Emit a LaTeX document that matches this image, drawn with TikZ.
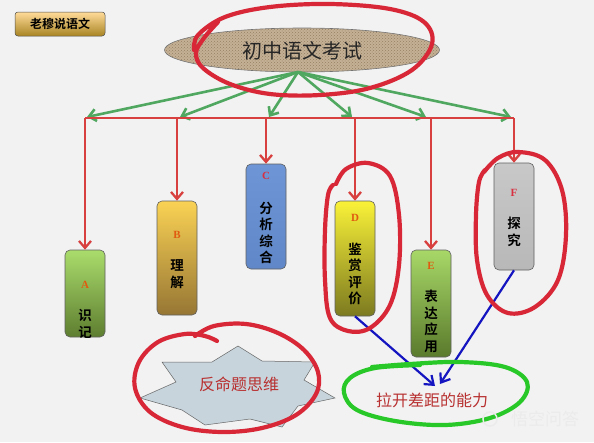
\documentclass[tikz,border=0pt]{standalone}
\usepackage{fontspec}
\newfontfamily\cjk{Noto Sans CJK SC}
\newfontfamily\cjkb{Noto Sans CJK SC Bold}
\setmainfont{Liberation Serif}
\usetikzlibrary{arrows.meta,shapes.geometric,patterns}
\definecolor{bg}{HTML}{F2F2F2}
\definecolor{redc}{HTML}{D84040}
\definecolor{greenc}{HTML}{50A860}
\definecolor{bluec}{HTML}{1414C0}
\definecolor{penred}{HTML}{D82838}
\definecolor{pengreen}{HTML}{28C828}
\definecolor{boxline}{HTML}{606060}
\definecolor{lettc}{HTML}{E05A10}
\definecolor{lettr}{HTML}{D83040}
\definecolor{txtred}{HTML}{B83030}
\begin{document}
\begin{tikzpicture}[x=1pt,y=-1pt,
  box/.style={draw=boxline, rounded corners=5pt, minimum width=40pt, line width=0.6pt, inner sep=0pt},
  redln/.style={draw=redc, line width=2.3pt},
  redar/.style={redln, -{Straight Barb[length=7pt,width=12pt]}},
  greenar/.style={draw=greenc, line width=2.6pt, -{Straight Barb[length=7pt,width=12pt]}},
  bluear/.style={draw=bluec, line width=2.2pt, -{Straight Barb[length=8pt,width=12pt]}},
  pen/.style={line width=4.2pt, line cap=round, line join=round},
  letter/.style={font=\fontsize{11}{11}\selectfont\bfseries, inner sep=0pt},
  vtext/.style={font=\cjkb\fontsize{13.5}{16.5}\selectfont, align=center, inner sep=0pt},
]
\fill[bg] (0,0) rectangle (594,442);
\useasboundingbox (0,0) rectangle (594,442);

% top-left button
\node[draw=boxline!80!black, rounded corners=3pt, top color=yellow!30!orange!40!white, bottom color=brown!70!yellow!80!black,
      minimum width=90pt, minimum height=24pt, line width=0.5pt, font=\cjkb\fontsize{12}{12}\selectfont] (btn) at (60,24) {老穆说语文};

% main ellipse
\node[ellipse, draw=black!55, line width=0.6pt, fill={rgb,255:red,196;green,176;blue,148}, minimum width=275pt, minimum height=44pt, inner sep=0pt] (top) at (302,50) {};
\fill[pattern=crosshatch dots, pattern color={rgb,255:red,150;green,128;blue,100}] (302,50) ellipse [x radius=136.5, y radius=21.5];
\node[font=\cjk\fontsize{20}{20}\selectfont, text=black!85] (title) at (302,51) {初中语文考试};

% boxes
\node[box, top color={rgb,255:red,170;green,220;blue,108}, bottom color={rgb,255:red,94;green,126;blue,48}, minimum height=87pt] (A) at (85,293.5) {};
\node[box, top color={rgb,255:red,250;green,210;blue,84}, bottom color={rgb,255:red,150;green,118;blue,52}, minimum height=114pt] (B) at (177,258) {};
\node[box, top color={rgb,255:red,110;green,150;blue,214}, bottom color={rgb,255:red,96;green,136;blue,200}, minimum height=105pt] (C) at (266,216.5) {};
\node[box, top color={rgb,255:red,250;green,242;blue,56}, bottom color={rgb,255:red,124;green,122;blue,32}, minimum height=115pt] (D) at (355,258.5) {};
\node[box, top color={rgb,255:red,168;green,216;blue,104}, bottom color={rgb,255:red,90;green,122;blue,44}, minimum height=107pt] (E) at (431,303.5) {};
\node[box, top color={rgb,255:red,200;green,200;blue,200}, bottom color={rgb,255:red,184;green,184;blue,184}, minimum height=107pt] (F) at (514,216.5) {};

% box texts
\node[letter, text=lettc] (Al) at (85,285) {A};
\node[vtext] (At) at (85,324) {识\\记};
\node[letter, text=lettc] (Bl) at (177,235) {B};
\node[vtext] (Bt) at (177,274) {理\\解};
\node[letter, text=lettr] (Cl) at (266,176) {C};
\node[vtext] (Ct) at (266,233) {分\\析\\综\\合};
\node[letter, text=lettc] (Dl) at (355,218) {D};
\node[vtext] (Dt) at (355,274) {鉴\\赏\\评\\价};
\node[letter, text=lettc] (El) at (431,266) {E};
\node[vtext] (Et) at (431,321.5) {表\\达\\应\\用};
\node[letter, text=lettr] (Fl) at (514,193) {F};
\node[vtext] (Ft) at (514,232) {探\\究};

% star
\path[fill={rgb,255:red,200;green,212;blue,220}, draw=black!60, line width=0.5pt]
  (238,346) -- (262,361) -- (315,362) -- (304,380) -- (335,398) -- (298,406) -- (282,427)
  -- (250,419) -- (205,425) -- (182,410) -- (140,398) -- (176,382) -- (162,362) -- (212,362) -- cycle;
\node[font=\cjk\fontsize{16}{16}\selectfont, text=txtred] (rev) at (239,384) {反命题思维};

% target text
\node[font=\cjk\fontsize{16}{16}\selectfont, text=txtred] (gap) at (432,400) {拉开差距的能力};
\coordinate (tip1) at (435,386);
\coordinate (tip2) at (440,384);

% green arrows
\coordinate (src) at (298,72);
\foreach \n/\x in {g1/87,g2/180,g3/269,g4/352,g5/426,g6/511}{
  \coordinate (\n) at (\x,117);
}
\foreach \n in {g1,g2,g3,g4,g5,g6}{
  \draw[greenar] (src) -- (\n);
}

% red distribution line
\coordinate (hA) at (85,118);
\coordinate (hB) at (177,118);
\coordinate (hC) at (266,118);
\coordinate (hD) at (355,118);
\coordinate (hE) at (431,118);
\coordinate (hF) at (514,118);
\draw[redln] (hA) -- (hF);
\draw[redar] (hA) -- (A.north);
\draw[redar] (hB) -- (B.north);
\draw[redar] (hC) -- (C.north);
\draw[redar] (hD) -- (D.north);
\draw[redar] (hE) -- (E.north);
\draw[redar] (hF) -- (F.north);

% blue arrows
\draw[bluear] (D.south) -- (tip1);
\draw[bluear] (F.south) -- (tip2);

% hand drawn pen marks
\draw[pen, penred] plot[smooth, tension=0.6] coordinates {(218,22) (204,38) (196,53) (203,68) (230,84) (270,94) (320,95) (370,88) (412,70) (432,44) (424,22) (390,9) (330,4) (270,7) (225,17) (198,35) (194,50)};
\draw[pen, penred] plot[smooth, tension=0.6] coordinates {(336,184) (346,169) (368,163) (390,176) (399,215) (399,265) (390,305) (370,328) (348,331) (330,318) (325,280) (325,230) (328,195) (333,185)};
\draw[pen, penred] plot[smooth, tension=0.6] coordinates {(484,172) (498,158) (518,152) (545,160) (562,190) (566,235) (558,280) (535,307) (508,313) (487,295) (477,260) (476,215) (479,182) (485,170)};
\draw[pen, penred] plot[smooth, tension=0.6] coordinates {(217,341) (205,336) (185,334) (158,342) (139,362) (135,388) (150,412) (182,427) (222,432) (262,428) (296,415) (316,394) (318,372) (304,350) (278,333) (246,324) (214,326) (195,336)};
\draw[pen, pengreen] plot[smooth, tension=0.6] coordinates {(372,367) (410,364) (460,362) (505,367) (527,382) (520,402) (490,418) (445,425) (395,421) (357,410) (344,393) (350,378) (375,368) (420,365)};

% watermark
\node[font=\cjk\fontsize{17}{17}\selectfont, text=white!92!black] (wm) at (545,419) {悟空问答};
\draw[white!92!black, line width=1.5pt] (490,419) circle (7pt);
\end{tikzpicture}
\end{document}
